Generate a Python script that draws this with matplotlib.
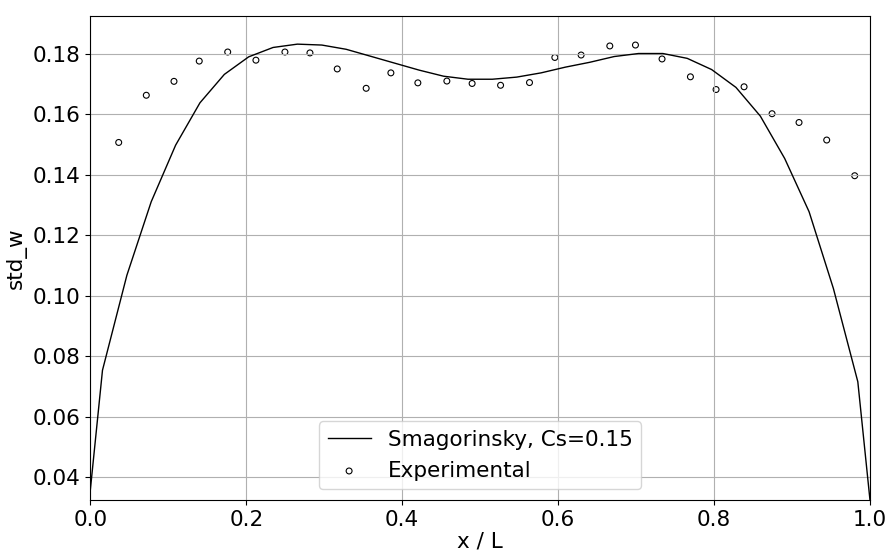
import numpy as np
import matplotlib
matplotlib.use("Agg")
import matplotlib.pyplot as plt

# LES profile (cell centres plus the two walls)
les_x = [0.0, 0.0156, 0.0469, 0.0781, 0.1094, 0.1406, 0.1719, 0.2031, 0.2344,
         0.2656, 0.2969, 0.3281, 0.3594, 0.3906, 0.4219, 0.4531, 0.4844,
         0.5156, 0.5469, 0.5781, 0.6094, 0.6406, 0.6719, 0.7031, 0.7344,
         0.7656, 0.7969, 0.8281, 0.8594, 0.8906, 0.9219, 0.9531, 0.9844, 1.0]
les_std_w = [0.0358, 0.0754, 0.1068, 0.1311, 0.1498, 0.1638, 0.1732, 0.1790,
             0.1821, 0.1832, 0.1829, 0.1815, 0.1792, 0.1769, 0.1746, 0.1726,
             0.1716, 0.1716, 0.1723, 0.1737, 0.1756, 0.1772, 0.1791, 0.1801,
             0.1801, 0.1785, 0.1748, 0.1689, 0.1594, 0.1454, 0.1278, 0.1024,
             0.0716, 0.0325]

# experimental data
exp_x = [0.0364, 0.0718, 0.1073, 0.1397, 0.1762, 0.2124, 0.2496, 0.2817,
         0.3167, 0.3538, 0.3855, 0.4201, 0.4573, 0.4897, 0.5262, 0.5633,
         0.5958, 0.6295, 0.6663, 0.6992, 0.7333, 0.7697, 0.8026, 0.8385,
         0.8744, 0.9090, 0.9445, 0.9804]
exp_std_w = [0.1507, 0.1663, 0.1709, 0.1776, 0.1806, 0.1779, 0.1806, 0.1803,
             0.1750, 0.1686, 0.1737, 0.1704, 0.1710, 0.1702, 0.1696, 0.1705,
             0.1788, 0.1796, 0.1826, 0.1829, 0.1783, 0.1724, 0.1682, 0.1691,
             0.1602, 0.1573, 0.1515, 0.1397]

fs = 15.5

fig = plt.figure(figsize=(8.89, 5.52), dpi=100)
ax = fig.add_axes([0.1016, 0.0942, 0.877, 0.8768])

ax.plot(les_x, les_std_w, color='k', linewidth=1.0, label='Smagorinsky, Cs=0.15')
ax.scatter(exp_x, exp_std_w, s=18, facecolors='none', edgecolors='k',
           linewidths=0.8, label='Experimental')

ax.set_xlim(0.0, 1.0)
ax.set_ylim(0.0325, 0.1925)
ax.set_yticks(np.arange(0.04, 0.19, 0.02))
ax.grid(True)
ax.tick_params(labelsize=fs)
ax.set_xlabel('x / L', fontsize=fs, labelpad=1)
ax.set_ylabel('std_w', fontsize=fs, labelpad=4)
ax.legend(loc='lower center', fontsize=fs)

fig.savefig('out.png', dpi=100)
